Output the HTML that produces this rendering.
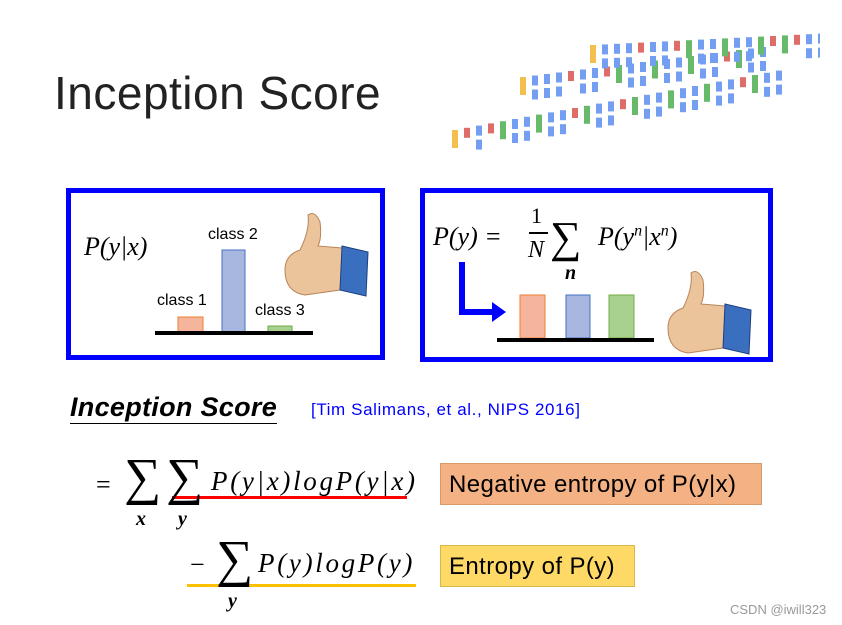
<!DOCTYPE html>
<html><head><meta charset="utf-8"><style>
body{margin:0;background:#fff;}
#s{position:relative;width:842px;height:625px;overflow:hidden;font-family:"Liberation Sans",sans-serif;}
.a{position:absolute;white-space:nowrap;}
.m{font-family:"Liberation Serif",serif;font-style:italic;}
</style></head><body>
<div id="s">
<div class="a" style="left:54px;top:66px;font-size:46px;color:#222;letter-spacing:0.5px;">Inception Score</div>
<svg class="a" style="left:440px;top:30px;opacity:0.85" width="380" height="130" id="net"></svg>

<div class="a" style="left:66px;top:188px;width:309px;height:162px;border:5px solid #0000ff;"></div>
<div class="a" style="left:420px;top:188px;width:343px;height:164px;border:5px solid #0000ff;"></div>

<svg class="a" style="left:0;top:0" width="842" height="625">
 <g>
  <rect x="178" y="317" width="25" height="15" fill="#f5b59d" stroke="#ed7d31"/>
  <rect x="222" y="250" width="23" height="82" fill="#a8b7df" stroke="#4472c4"/>
  <rect x="268" y="326" width="24" height="6" fill="#a9d08e" stroke="#70ad47"/>
  <rect x="155" y="331" width="158" height="4" fill="#000"/>
 </g>
 <g>
  <rect x="520" y="295" width="25" height="43" fill="#f5b59d" stroke="#ed7d31"/>
  <rect x="566" y="295" width="24" height="43" fill="#a8b7df" stroke="#4472c4"/>
  <rect x="609" y="295" width="25" height="43" fill="#a9d08e" stroke="#70ad47"/>
  <rect x="497" y="338" width="157" height="4" fill="#000"/>
 </g>
 <path d="M462 262 V312 H495" stroke="#0000ff" stroke-width="6" fill="none"/>
 <polygon points="492,302 506,312 492,322" fill="#0000ff"/>
 <g transform="translate(280,210)">
  <path d="M20 40 Q30 20 28 5 Q35 0 40 12 Q42 28 38 36 L62 38 Q70 70 60 80 L25 85 Q5 82 5 60 Q5 45 20 40Z" fill="#ecc49b" stroke="#b8845a"/>
  <path d="M62 36 L88 42 L86 86 L60 80Z" fill="#3a6fc0" stroke="#1e3f80"/>
 </g>
 <g transform="translate(663,268)">
  <path d="M20 40 Q30 20 28 5 Q35 0 40 12 Q42 28 38 36 L62 38 Q70 70 60 80 L25 85 Q5 82 5 60 Q5 45 20 40Z" fill="#ecc49b" stroke="#b8845a"/>
  <path d="M62 36 L88 42 L86 86 L60 80Z" fill="#3a6fc0" stroke="#1e3f80"/>
 </g>
 <rect x="172" y="496" width="235" height="3" fill="#ff0000"/>
 <rect x="187" y="584" width="229" height="3" fill="#ffc000"/>
</svg>

<div class="a m" style="left:84px;top:232px;font-size:26px;">P(y|x)</div>
<div class="a" style="left:157px;top:292px;font-size:16px;">class 1</div>
<div class="a" style="left:208px;top:226px;font-size:16px;">class 2</div>
<div class="a" style="left:255px;top:302px;font-size:16px;">class 3</div>

<div class="a m" style="left:433px;top:222px;font-size:26px;">P(y) =</div>
<div class="a m" style="left:531px;top:203px;font-size:22px;font-style:normal;">1</div>
<div class="a" style="left:529px;top:232px;width:19px;height:2px;background:#000;"></div>
<div class="a m" style="left:528px;top:237px;font-size:24px;">N</div>
<div class="a" style="left:550px;top:212px;font-size:44px;font-family:'Liberation Serif',serif;">∑</div>
<div class="a m" style="left:565px;top:262px;font-size:20px;font-weight:bold;">n</div>
<div class="a m" style="left:598px;top:222px;font-size:26px;">P(y<sup style="font-size:16px">n</sup>|x<sup style="font-size:16px">n</sup>)</div>

<div class="a" style="left:70px;top:392px;font-size:27px;font-weight:bold;font-style:italic;border-bottom:1px solid #000;letter-spacing:0.3px;">Inception Score</div>
<div class="a" style="left:311px;top:400px;font-size:17px;color:#0000ff;letter-spacing:0.6px;">[Tim Salimans, et al., NIPS 2016]</div>

<div class="a" style="left:96px;top:470px;font-size:26px;font-family:'Liberation Serif',serif;">=</div>
<div class="a" style="left:124px;top:448px;font-size:52px;font-family:'Liberation Serif',serif;">∑</div>
<div class="a" style="left:166px;top:448px;font-size:52px;font-family:'Liberation Serif',serif;">∑</div>
<div class="a m" style="left:136px;top:508px;font-size:20px;font-weight:bold;">x</div>
<div class="a m" style="left:178px;top:508px;font-size:20px;font-weight:bold;">y</div>
<div class="a m" style="left:211px;top:466px;font-size:27px;letter-spacing:2.7px;">P(y|x)logP(y|x)</div>
<div class="a" style="left:440px;top:463px;width:322px;height:42px;background:#f4b183;border:1px solid #d99a6a;box-sizing:border-box;font-size:24px;line-height:42px;padding-left:8px;letter-spacing:0.4px;">Negative entropy of P(y|x)</div>

<div class="a" style="left:190px;top:550px;font-size:26px;font-family:'Liberation Serif',serif;">−</div>
<div class="a" style="left:216px;top:530px;font-size:52px;font-family:'Liberation Serif',serif;">∑</div>
<div class="a m" style="left:228px;top:590px;font-size:20px;font-weight:bold;">y</div>
<div class="a m" style="left:258px;top:548px;font-size:27px;letter-spacing:2.7px;">P(y)logP(y)</div>
<div class="a" style="left:440px;top:545px;width:195px;height:42px;background:#ffd966;border:1px solid #d9b84a;box-sizing:border-box;font-size:24px;line-height:42px;padding-left:8px;letter-spacing:0.4px;">Entropy of P(y)</div>

<div class="a" style="left:730px;top:602px;font-size:13px;color:#999;">CSDN @iwill323</div>
</div>
<script>
const rowSeqs=["yrbrgbbgbbrgbbrgbbgbbgbbrgbb","ybbbrbbrgbbgbbgbbrgbb","ybbbrbbrgbbgbbgrgrbb"];
const colors={y:"#f2b632",b:"#5b8ef0",r:"#d9534f",g:"#4caf50"};
const net=document.getElementById('net');
const starts=[[12,100,2.2],[80,47,1.5],[150,15,0.6]];
rowSeqs.forEach((seq,ri)=>{
 const [sx,sy,slope]=starts[ri];
 for(let i=0;i<seq.length;i++){
  const x=sx+i*12;
  const y=sy-i*slope;
  for(let k=0;k<(seq[i]=='b'?2:1);k++){
   const r=document.createElementNS("http://www.w3.org/2000/svg","rect");
   
   
   r.setAttribute('x',x);r.setAttribute('y',y+k*14);
   r.setAttribute('width',6);r.setAttribute('height',seq[i]=='y'||seq[i]=='g'?18:10);
   r.setAttribute('fill',colors[seq[i]]);
   net.appendChild(r);
  }
 }
});
</script>
</body></html>
